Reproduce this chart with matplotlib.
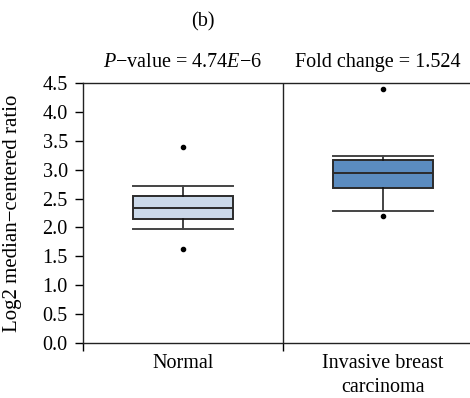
import matplotlib
matplotlib.use("Agg")
import matplotlib.pyplot as plt

plt.rcParams['font.family'] = ['Liberation Serif', 'DejaVu Serif']
plt.rcParams['mathtext.fontset'] = 'custom'
plt.rcParams['mathtext.rm'] = 'Liberation Serif'
plt.rcParams['mathtext.it'] = 'Liberation Serif:italic'

# box summary values per group
groups = ["Normal", "Invasive breast\ncarcinoma"]
whisker_low = [1.97, 2.28]
q1 = [2.15, 2.69]
median = [2.33, 2.95]
q3 = [2.54, 3.17]
whisker_high = [2.72, 3.23]
outliers = [[1.63, 3.39], [2.19, 4.40]]
box_colors = ["#cbd9ea", "#5b8cc0"]

p_text = "$P$\u2212value = 4.74$E$\u22126"
fold_text = "Fold change = 1.524"

fs = 14.5

stats = []
for i in range(len(groups)):
    stats.append({
        "whislo": whisker_low[i], "q1": q1[i], "med": median[i],
        "q3": q3[i], "whishi": whisker_high[i], "fliers": outliers[i],
    })

fig = plt.figure(figsize=(4.7, 3.98), dpi=100)
ax = fig.add_axes([0.1766, 0.1382, 0.851, 0.6533])

positions = [0.5, 1.5]
bp = ax.bxp(stats, positions=positions, widths=0.5, capwidths=0.5,
            patch_artist=True, manage_ticks=False,
            boxprops=dict(edgecolor="#2b2b2b", linewidth=1.4),
            medianprops=dict(color="#2b2b2b", linewidth=1.4),
            whiskerprops=dict(color="#111111", linewidth=1.1),
            capprops=dict(color="#444444", linewidth=1.4),
            flierprops=dict(marker="o", markersize=3, markerfacecolor="black",
                            markeredgecolor="black"))
for patch, c in zip(bp["boxes"], box_colors):
    patch.set_facecolor(c)

ax.set_xlim(0, 2)
ax.set_ylim(0, 4.5)
ax.set_yticks([0.0, 0.5, 1.0, 1.5, 2.0, 2.5, 3.0, 3.5, 4.0, 4.5])
ax.set_yticklabels(["%.1f" % v for v in ax.get_yticks()], fontsize=fs)
ax.set_xticks([0, 1, 2])
ax.set_xticklabels([])
ax.set_xticks(positions, minor=True)
ax.set_xticklabels(groups, minor=True, fontsize=fs, linespacing=1.35)
ax.tick_params(axis="x", which="minor", length=0, pad=8)
ax.tick_params(axis="x", which="major", length=6, width=1, direction="out")
ax.tick_params(axis="y", length=6, width=1, direction="out", pad=5)

for side in ["left", "bottom", "top"]:
    ax.spines[side].set_linewidth(1.0)
    ax.spines[side].set_color("#222222")
ax.spines["right"].set_visible(False)
ax.axvline(1, color="#222222", linewidth=1.0)

ax.set_ylabel("Log2 median\u2212centered ratio", fontsize=15)
ax.yaxis.set_label_coords(-0.1525, 0.5)

ax.annotate(p_text, xy=(0.5, 1), xycoords=("data", "axes fraction"),
            xytext=(0, 15), textcoords="offset points", ha="center",
            va="center", fontsize=fs)
ax.annotate(fold_text, xy=(1.5, 1), xycoords=("data", "axes fraction"),
            xytext=(-4, 15), textcoords="offset points", ha="center",
            va="center", fontsize=fs)

fig.text(203 / 470, 1 - 22 / 398, "(b)", ha="center", va="center", fontsize=fs)

fig.savefig("out.png", dpi=100)
